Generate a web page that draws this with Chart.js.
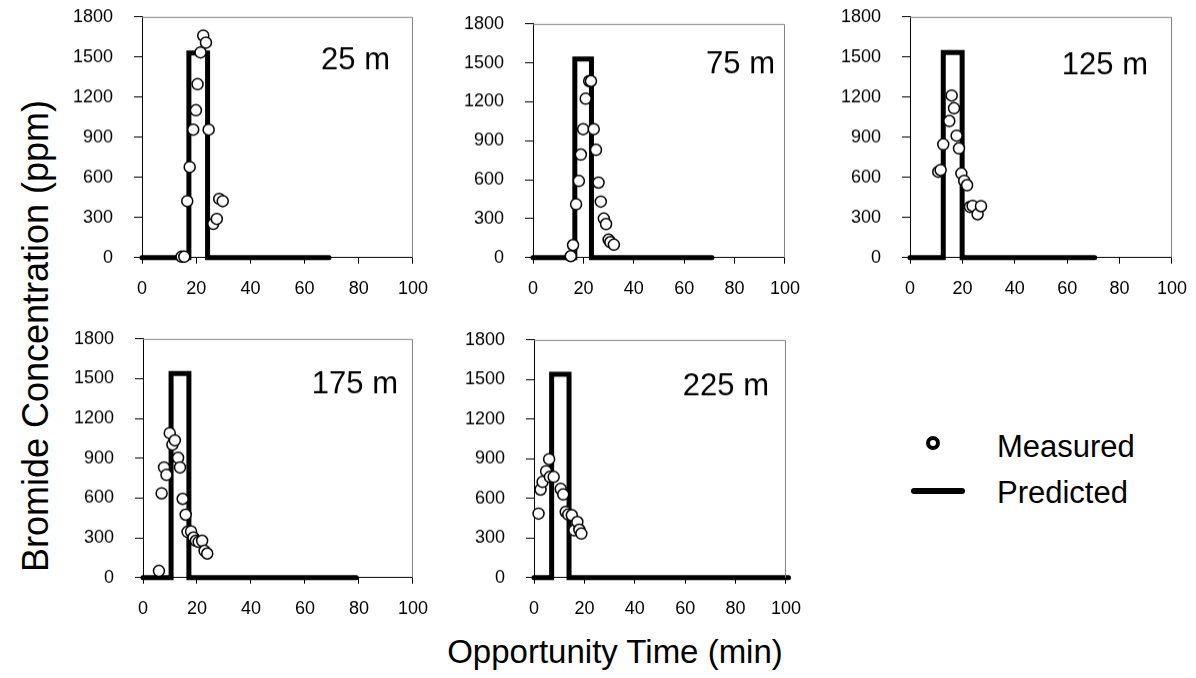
<!DOCTYPE html>
<html>
<head>
<meta charset="utf-8">
<script src="https://cdn.jsdelivr.net/npm/chart.js@4.4.0/dist/chart.umd.min.js"></script>
<style>
  body { margin: 0; background: #fff; width: 1196px; height: 678px; position: relative; overflow: hidden;
         font-family: "Liberation Sans", Arial, sans-serif; color: #000; }
  canvas { position: absolute; }
  .ytitle { position: absolute; left: 36px; top: 336px; font-size: 36px; line-height: 1; white-space: nowrap;
            transform: translate(-50%, -50%) rotate(-90deg); }
  .xtitle { position: absolute; left: 615px; top: 651px; font-size: 33px; line-height: 1; white-space: nowrap;
            transform: translate(-50%, -50%); }
  .leg-text { position: absolute; left: 997px; font-size: 31px; line-height: 1; white-space: nowrap; transform: translateY(-50%); }
  .leg-dot { position: absolute; left: 926px; top: 436px; width: 14px; height: 14px; box-sizing: border-box;
             border: 4px solid #000; border-radius: 50%; background: #fff; }
  .leg-line { position: absolute; left: 911px; top: 488px; width: 54px; height: 6px; background: #000; border-radius: 3px; }
</style>
</head>
<body>
<div class="ytitle">Bromide Concentration (ppm)</div>
<div class="xtitle">Opportunity Time (min)</div>
<div class="leg-dot"></div>
<div class="leg-text" style="top:446px">Measured</div>
<div class="leg-line"></div>
<div class="leg-text" style="top:492px">Predicted</div>
<script>
const xTicks = [0, 20, 40, 60, 80, 100];
const yTicks = [0, 300, 600, 900, 1200, 1500, 1800];
const distances = ["25 m", "75 m", "125 m", "175 m", "225 m"];

// measured [time, ppm]
const measured25 = [[14.6,7],[15.6,7],[16.7,423],[17.6,678],[18.9,957],[19.9,1102],[20.5,1297],[21.6,1535],
  [22.6,1660],[23.6,1608],[24.6,957],[26.3,253],[27.6,290],[28.5,440],[29.8,423]];
const measured75 = [[15.0,12],[15.9,97],[17.1,411],[18.2,591],[19.0,794],[19.9,990],[20.9,1224],[22.3,1360],
  [23.0,1360],[24.1,990],[25.0,830],[26.0,578],[26.9,432],[28.1,301],[29.0,259],[30.0,139],[30.7,120],[32.1,100]];
const measured125 = [[10.8,642],[11.7,655],[12.7,847],[15.0,1022],[15.9,1212],[16.8,1117],[17.8,912],[18.7,817],
  [19.6,630],[20.7,575],[21.8,542],[22.9,380],[23.9,387],[25.8,325],[27.1,385]];
const measured175 = [[5.9,51],[6.9,636],[7.8,831],[8.7,775],[9.9,1090],[10.9,1003],[11.8,1035],[13.0,904],[13.7,831],
  [14.7,594],[15.8,475],[16.5,346],[17.8,349],[18.7,303],[19.6,278],[20.6,270],[21.9,278],[22.8,202],[23.8,182]];
const measured225 = [[1.8,485],[2.6,667],[3.4,725],[4.8,806],[6.0,897],[6.3,763],[7.8,763],[10.6,672],[11.6,630],
  [12.6,498],[13.6,478],[15.0,473],[16.0,359],[17.2,422],[18.0,363],[18.8,334]];

// predicted pulse [time, ppm]
const predicted25 = [[0,0],[17.3,0],[17.3,1530],[24.2,1530],[24.2,0],[69,0]];
const predicted75 = [[0,0],[16.6,0],[16.6,1530],[23.2,1530],[23.2,0],[71,0]];
const predicted125 = [[0,0],[12.7,0],[12.7,1535],[19.9,1535],[19.9,0],[70.5,0]];
const predicted175 = [[0,0],[10.4,0],[10.4,1540],[17.0,1540],[17.0,0],[79,0]];
const predicted225 = [[0,0],[7.0,0],[7.0,1540],[13.9,1540],[13.9,0],[101,0]];

// layout: plot box [left, top, right, bottom] in page px, label offset from box right / top
const panels = [
  { label: distances[0], measured: measured25, predicted: predicted25, box: [142, 17, 413, 257], lr: 23, lb: 52 },
  { label: distances[1], measured: measured75, predicted: predicted75, box: [533, 24, 785, 257], lr: 10, lb: 49 },
  { label: distances[2], measured: measured125, predicted: predicted125, box: [910, 17, 1172, 257], lr: 24, lb: 57 },
  { label: distances[3], measured: measured175, predicted: predicted175, box: [143, 339, 413, 577], lr: 15, lb: 54 },
  { label: distances[4], measured: measured225, predicted: predicted225, box: [534, 340, 786, 577], lr: 17, lb: 55 }
];

const PAD_L = 90, PAD_B = 50;
const toPts = arr => arr.map(p => ({ x: p[0], y: p[1] }));

const framePlugin = {
  id: 'frame',
  afterDraw(chart, args, opts) {
    const { ctx, chartArea: a } = chart;
    ctx.save();
    ctx.strokeStyle = '#808080';
    ctx.lineWidth = 1;
    ctx.beginPath();
    ctx.moveTo(a.left, a.top + 0.5);
    ctx.lineTo(a.right - 0.5, a.top + 0.5);
    ctx.lineTo(a.right - 0.5, a.bottom);
    ctx.stroke();
    ctx.fillStyle = '#000';
    ctx.font = '31px "Liberation Sans", Arial, sans-serif';
    ctx.textAlign = 'right';
    ctx.textBaseline = 'alphabetic';
    ctx.fillText(opts.label, a.right - opts.lr, a.top + opts.lb);
    ctx.restore();
  }
};

panels.forEach(p => {
  const [L, T, R, B] = p.box;
  const cv = document.createElement('canvas');
  cv.width = R - L + 150;
  cv.height = B - T + 100;
  document.body.appendChild(cv);

  const chart = new Chart(cv.getContext('2d'), {
    type: 'scatter',
    data: {
      datasets: [
        {
          label: 'Measured',
          data: toPts(p.measured),
          showLine: false,
          pointRadius: 5.5,
          pointBorderWidth: 1.5,
          pointBackgroundColor: '#fff',
          pointBorderColor: '#000',
          clip: false,
          order: 0
        },
        {
          label: 'Predicted',
          data: toPts(p.predicted),
          showLine: true,
          pointRadius: 0,
          borderColor: '#000',
          borderWidth: 5,
          borderCapStyle: 'round',
          borderJoinStyle: 'miter',
          tension: 0,
          clip: false,
          order: 1
        }
      ]
    },
    options: {
      responsive: false,
      maintainAspectRatio: false,
      animation: false,
      events: [],
      layout: { padding: 0 },
      plugins: {
        legend: { display: false },
        tooltip: { enabled: false },
        frame: { label: p.label, lr: p.lr, lb: p.lb }
      },
      scales: {
        x: {
          type: 'linear', min: 0, max: 100,
          afterBuildTicks: s => { s.ticks = xTicks.map(v => ({ value: v })); },
          afterFit: s => { s.height = PAD_B; },
          grid: { display: true, drawOnChartArea: false, drawTicks: true, tickLength: 6, color: '#000' },
          border: { display: true, color: '#000', width: 1 },
          ticks: { color: '#000', padding: 14, maxRotation: 0, autoSkip: false,
                   callback: v => String(v),
                   font: { size: 18, family: '"Liberation Sans", Arial, sans-serif' } }
        },
        y: {
          type: 'linear', min: 0, max: 1800,
          afterBuildTicks: s => { s.ticks = yTicks.map(v => ({ value: v })); },
          afterFit: s => { s.width = PAD_L; },
          grid: { display: true, drawOnChartArea: false, drawTicks: true, tickLength: 8, color: '#000' },
          border: { display: true, color: '#000', width: 1 },
          ticks: { color: '#000', padding: 21, autoSkip: false,
                   callback: v => String(v),
                   font: { size: 18, family: '"Liberation Sans", Arial, sans-serif' } }
        }
      }
    },
    plugins: [framePlugin]
  });

  // size the canvas so the plot box lands exactly on the reference box
  const a = chart.chartArea;
  chart.resize(cv.width + (R - L) - (a.right - a.left), cv.height + (B - T) - (a.bottom - a.top));
  const a2 = chart.chartArea;
  cv.style.left = (L - a2.left) + 'px';
  cv.style.top = (T - a2.top) + 'px';
});
</script>
</body>
</html>
